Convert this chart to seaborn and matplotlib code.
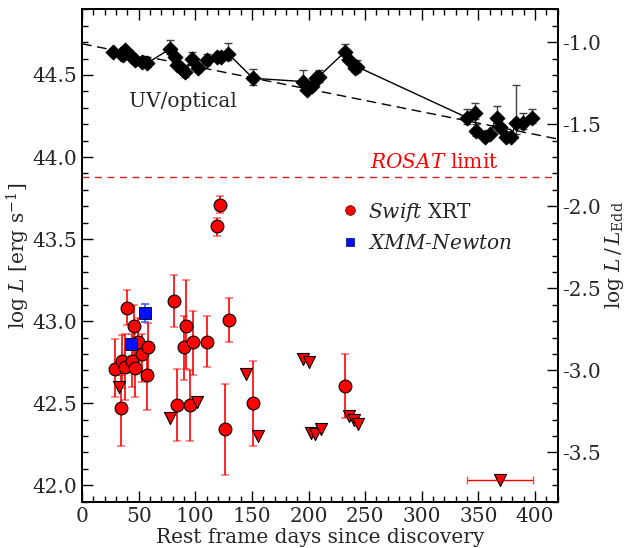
import numpy as np
import pandas as pd
import matplotlib
matplotlib.use("Agg")
import matplotlib.pyplot as plt
import seaborn as sns
from matplotlib.ticker import MultipleLocator, FormatStrFormatter
from matplotlib.lines import Line2D

# ---------------- data ----------------
uv_days = [27, 34, 36, 38, 44, 47, 53, 57, 78, 82, 84, 87, 91, 97, 102, 110, 119, 123, 129,
           151, 195, 199, 203, 207, 209, 232, 236, 241, 243,
           340, 347, 348, 356, 360, 366, 369, 374, 379, 383, 389, 397]
uv_logL = [44.64, 44.63, 44.62, 44.65, 44.61, 44.59, 44.58, 44.57, 44.66, 44.61, 44.56, 44.54,
           44.52, 44.60, 44.54, 44.59, 44.61, 44.61, 44.63,
           44.48, 44.46, 44.41, 44.43, 44.48, 44.49, 44.64, 44.59, 44.54, 44.55,
           44.24, 44.27, 44.16, 44.12, 44.14, 44.24, 44.18, 44.12, 44.12, 44.21, 44.21, 44.24]
uv_err_lo = [0.02, 0.02, 0.02, 0.02, 0.02, 0.02, 0.02, 0.02, 0.03, 0.02, 0.02, 0.02,
             0.035, 0.03, 0.02, 0.03, 0.02, 0.02, 0.04,
             0.04, 0.05, 0.02, 0.02, 0.02, 0.03, 0.04, 0.02, 0.02, 0.03,
             0.04, 0.04, 0.03, 0.02, 0.02, 0.05, 0.02, 0.02, 0.02, 0.07, 0.04, 0.03]
uv_err_hi = [0.02, 0.02, 0.02, 0.02, 0.02, 0.02, 0.02, 0.02, 0.05, 0.02, 0.02, 0.02,
             0.035, 0.04, 0.02, 0.04, 0.02, 0.02, 0.065,
             0.055, 0.07, 0.02, 0.02, 0.02, 0.04, 0.05, 0.02, 0.02, 0.04,
             0.055, 0.06, 0.04, 0.02, 0.02, 0.07, 0.02, 0.02, 0.02, 0.23, 0.06, 0.05]

fit_days = [0, 420]
fit_logL = [44.69, 44.11]

xrt_days = [29, 34, 35.5, 38, 39.5, 44, 45.5, 47, 49, 53, 57, 58.5, 81.5, 84, 90, 92,
            95.5, 98, 110, 119, 122, 126.5, 129.5, 151, 232.5]
xrt_logL = [42.71, 42.47, 42.756, 42.72, 43.08, 42.76, 42.97, 42.715, 42.87, 42.80, 42.67,
            42.84, 43.12, 42.49, 42.84, 42.97, 42.49, 42.87, 42.87, 43.58, 43.71, 42.34,
            43.01, 42.50, 42.605]
xrt_err_lo = [0.17, 0.23, 0.166, 0.20, 0.105, 0.16, 0.20, 0.175, 0.12, 0.17, 0.21, 0.14,
              0.155, 0.22, 0.20, 0.26, 0.22, 0.20, 0.15, 0.06, 0.05, 0.28, 0.14, 0.26, 0.195]
xrt_err_hi = [0.18, 0.20, 0.16, 0.20, 0.11, 0.16, 0.13, 0.19, 0.15, 0.12, 0.19, 0.15,
              0.16, 0.22, 0.19, 0.28, 0.21, 0.19, 0.16, 0.05, 0.05, 0.28, 0.13, 0.26, 0.195]

ul_days = [32.5, 78, 101.5, 144.5, 155, 195.5, 200, 202, 206, 211, 236, 240, 243.5, 369]
ul_logL = [42.60, 42.41, 42.51, 42.675, 42.30, 42.77, 42.75, 42.32, 42.315, 42.34,
           42.42, 42.40, 42.375, 42.03]
ul_xerr_lo = [0, 0, 0, 0, 0, 0, 0, 0, 0, 0, 0, 0, 0, 29]
ul_xerr_hi = [0, 0, 0, 0, 0, 0, 0, 0, 0, 0, 0, 0, 0, 29]

xmm_days = [43, 56]
xmm_logL = [42.86, 43.05]
xmm_err = [0.02, 0.055]

rosat_limit = 43.88
edd_offset = 45.7

x_ticks = [0, 50, 100, 150, 200, 250, 300, 350, 400]
y_ticks = [42.0, 42.5, 43.0, 43.5, 44.0, 44.5]
y2_ticks = [-3.5, -3.0, -2.5, -2.0, -1.5, -1.0]

# ---------------- style ----------------
sns.set_theme(style="ticks")
plt.rcParams["font.family"] = ["DejaVu Serif"]
plt.rcParams["mathtext.fontset"] = "dejavuserif"
plt.rcParams["axes.unicode_minus"] = False
FS = 14.5

fig = plt.figure(figsize=(6.28, 5.48), dpi=100)
ax = fig.add_axes([0.1306, 0.0845, 0.888 - 0.1306, 0.983 - 0.0845])

uv = pd.DataFrame({"day": uv_days, "logL": uv_logL})
fit = pd.DataFrame({"day": fit_days, "logL": fit_logL})
xrt = pd.DataFrame({"day": xrt_days, "logL": xrt_logL})
ul = pd.DataFrame({"day": ul_days, "logL": ul_logL})
xmm = pd.DataFrame({"day": xmm_days, "logL": xmm_logL})

# ROSAT limit
ax.axhline(rosat_limit, color="#d62020", ls=(0, (5, 4)), lw=1.0, zorder=1)
ax.text(311, rosat_limit + 0.03, r"$\it{ROSAT}$ limit", color="red", fontsize=FS,
        ha="center", va="bottom")

# UV/optical
sns.lineplot(data=fit, x="day", y="logL", ax=ax, color="black", lw=1.0,
             linestyle=(0, (7, 4)), zorder=2)
sns.lineplot(data=uv, x="day", y="logL", ax=ax, color="black", lw=1.0, sort=False, zorder=2)
ax.errorbar(uv_days, uv_logL, yerr=[uv_err_lo, uv_err_hi], fmt="none", ecolor="0.25",
            elinewidth=1.0, capsize=3, capthick=1.0, zorder=3)
sns.scatterplot(data=uv, x="day", y="logL", ax=ax, marker="D", s=60, color="black",
                edgecolor="black", linewidth=0.5, zorder=4, legend=False)
ax.text(89, 44.34, "UV/optical", fontsize=FS, ha="center", va="center")

# Swift XRT detections
eb = ax.errorbar(xrt_days, xrt_logL, yerr=[xrt_err_lo, xrt_err_hi], fmt="none",
                 ecolor="red", elinewidth=1.2, capsize=3, capthick=1.2, zorder=3)
for c in eb[1]:
    c.set_alpha(0.55)
sns.scatterplot(data=xrt, x="day", y="logL", ax=ax, marker="o", s=85, color="red",
                edgecolor="black", linewidth=0.8, zorder=5, legend=False)

# upper limits
eb2 = ax.errorbar(ul_days, ul_logL, xerr=[ul_xerr_lo, ul_xerr_hi], fmt="none",
                  ecolor="red", elinewidth=1.0, capsize=3, capthick=1.0, zorder=3)
for c in eb2[1]:
    c.set_alpha(0.7)
sns.scatterplot(data=ul, x="day", y="logL", ax=ax, marker="v", s=75, color="red",
                edgecolor="black", linewidth=0.8, zorder=5, legend=False)

# XMM-Newton
ax.errorbar(xmm_days, xmm_logL, yerr=xmm_err, fmt="none", ecolor="#4060ff",
            elinewidth=1.2, capsize=3, capthick=1.2, zorder=3)
sns.scatterplot(data=xmm, x="day", y="logL", ax=ax, marker="s", s=65, color="#0010ff",
                edgecolor="black", linewidth=0.6, zorder=6, legend=False)

# legend
handles = [Line2D([], [], marker="o", ls="none", color="red", markeredgecolor="#500000",
                  markeredgewidth=0.5, markersize=7),
           Line2D([], [], marker="s", ls="none", color="#0010ff", markeredgecolor="#000050",
                  markeredgewidth=0.5, markersize=6)]
ax.legend(handles, [r"$\it{Swift}$ XRT", r"$\it{XMM}$-$\it{Newton}$"], loc="upper left",
          bbox_to_anchor=(0.525, 0.628), frameon=False, fontsize=FS, handletextpad=0.4,
          handlelength=1.0, labelspacing=0.5, borderaxespad=0)

# axes
ax.set_xlim(0, 420)
ax.set_ylim(41.9, 44.9)
ax.set_xticks(x_ticks)
ax.set_yticks(y_ticks)
ax.xaxis.set_minor_locator(MultipleLocator(10))
ax.yaxis.set_minor_locator(MultipleLocator(0.1))
ax.yaxis.set_major_formatter(FormatStrFormatter("%.1f"))
ax.tick_params(which="both", direction="in", top=True, right=False, labelsize=FS,
               width=1.0, color="black")
ax.tick_params(which="major", length=8)
ax.tick_params(which="minor", length=4)
ax.set_xlabel("Rest frame days since discovery", fontsize=FS, labelpad=2)
ax.set_ylabel(r"log $L$ [erg s$^{-1}$]", fontsize=FS, labelpad=0)
for s in ax.spines.values():
    s.set_linewidth(1.3)
    s.set_color("black")

ax2 = ax.twinx()
ax2.set_ylim(41.9 - edd_offset, 44.9 - edd_offset)
ax2.set_yticks(y2_ticks)
ax2.yaxis.set_minor_locator(MultipleLocator(0.1))
ax2.yaxis.set_major_formatter(FormatStrFormatter("%.1f"))
ax2.tick_params(which="both", direction="in", labelsize=FS, width=1.0, color="black")
ax2.tick_params(which="major", length=8)
ax2.tick_params(which="minor", length=4)
ax2.set_ylabel(r"log $L\,/\,L_{\rm Edd}$", fontsize=FS, labelpad=1)
for s in ax2.spines.values():
    s.set_linewidth(1.3)
    s.set_color("black")

fig.savefig("out.png", dpi=100)
